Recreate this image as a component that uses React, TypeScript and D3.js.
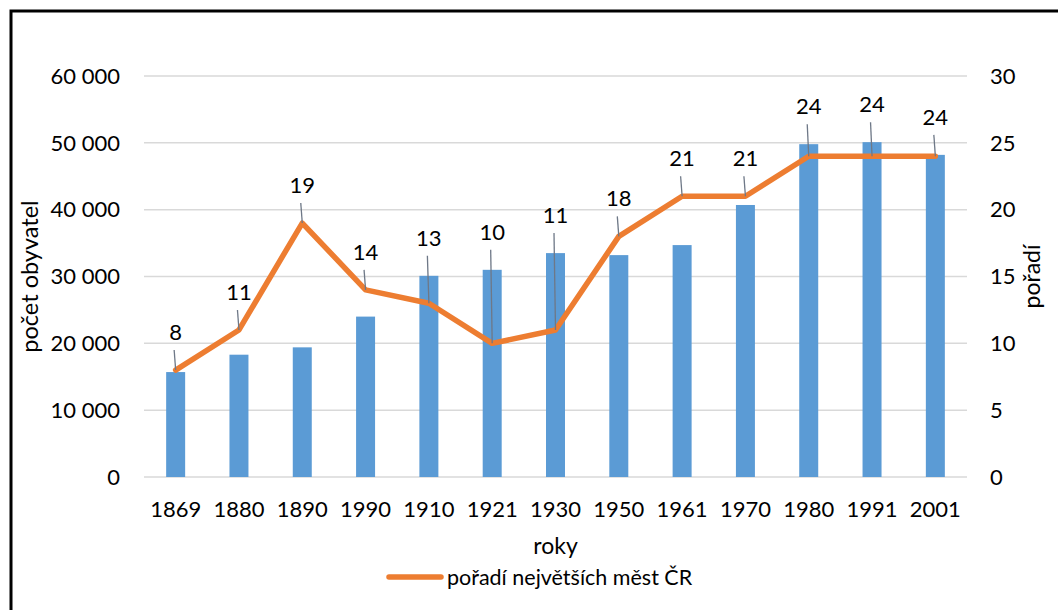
import React from "react";
import * as d3 from "d3";

const years = ["1869", "1880", "1890", "1990", "1910", "1921", "1930", "1950", "1961", "1970", "1980", "1991", "2001"];
const population = [15700, 18300, 19400, 24000, 30100, 31000, 33500, 33200, 34700, 40700, 49800, 50100, 48200];
const rank = [8, 11, 19, 14, 13, 10, 11, 18, 21, 21, 24, 24, 24];
const leftTicks = [0, 10000, 20000, 30000, 40000, 50000, 60000];
const rightTicks = [0, 5, 10, 15, 20, 25, 30];

const W = 1058, H = 610;
const left = 144, right = 967, top = 76, bottom = 477;
const FONT = "Lato, 'Open Sans', sans-serif";
const FS = 22;

export default function App() {
  const x = d3.scaleBand<string>().domain(years).range([left, right]).paddingInner(0.7).paddingOuter(0.35);
  const yL = d3.scaleLinear().domain([0, 60000]).range([bottom, top]);
  const yR = d3.scaleLinear().domain([0, 30]).range([bottom, top]);
  const cx = (c: string) => (x(c) as number) + x.bandwidth() / 2;
  const fmt = (v: number) => d3.format(",")(v).replace(/,/g, " ");
  const line = d3.line<number>().x((_, i) => cx(years[i])).y((d) => yR(d));

  return (
    <svg width={W} height={H} style={{ position: "absolute", left: 0, top: 0, background: "#fff" }} fontFamily={FONT}>
      <rect x={0} y={0} width={W} height={H} fill="#fff" />
      <path d={`M11,${H} V11 H${W}`} fill="none" stroke="#000" strokeWidth={3} />
      {leftTicks.map((t) => (
        <line key={"g" + t} x1={left} x2={right} y1={yL(t)} y2={yL(t)} stroke="#D9D9D9" strokeWidth={1.5} />
      ))}
      {leftTicks.map((t) => (
        <text key={"l" + t} x={120} y={yL(t)} dy="0.35em" textAnchor="end" fontSize={FS} fill="#000">{fmt(t)}</text>
      ))}
      {rightTicks.map((t) => (
        <text key={"r" + t} x={990} y={yR(t)} dy="0.35em" textAnchor="start" fontSize={FS} fill="#000">{t}</text>
      ))}
      {years.map((c, i) => (
        <rect key={"b" + c} x={x(c)} y={yL(population[i])} width={x.bandwidth()} height={bottom - yL(population[i])} fill="#5B9BD5" />
      ))}
      {years.map((c) => (
        <text key={"x" + c} x={cx(c)} y={517} textAnchor="middle" fontSize={FS} fill="#000">{c}</text>
      ))}
      <path d={line(rank) || ""} fill="none" stroke="#ED7D31" strokeWidth={5.5} strokeLinejoin="round" strokeLinecap="round" />
      {years.map((c, i) => {
        const py = yR(rank[i]);
        const anchor = Math.min(py, yL(population[i]));
        const labelBottom = anchor - 30;
        return (
          <g key={"lab" + c}>
            <line x1={cx(c) - 1.5} y1={labelBottom + 10} x2={cx(c)} y2={py} stroke="#6E7887" strokeWidth={1.3} />
            <text x={cx(c)} y={labelBottom} textAnchor="middle" fontSize={FS} fill="#000">{rank[i]}</text>
          </g>
        );
      })}
      <text transform={`translate(38,${(top + bottom) / 2}) rotate(-90)`} textAnchor="middle" fontSize={23.5} fill="#000">počet obyvatel</text>
      <text transform={`translate(1040,${(top + bottom) / 2}) rotate(-90)`} textAnchor="middle" fontSize={23} fill="#000">pořadí</text>
      <text x={(left + right) / 2} y={554} textAnchor="middle" fontSize={23} fill="#000">roky</text>
      <line x1={389} x2={441} y1={577} y2={577} stroke="#ED7D31" strokeWidth={5.5} strokeLinecap="round" />
      <text x={447} y={577} dy="0.35em" fontSize={21.5} fill="#000">pořadí největších měst ČR</text>
    </svg>
  );
}
